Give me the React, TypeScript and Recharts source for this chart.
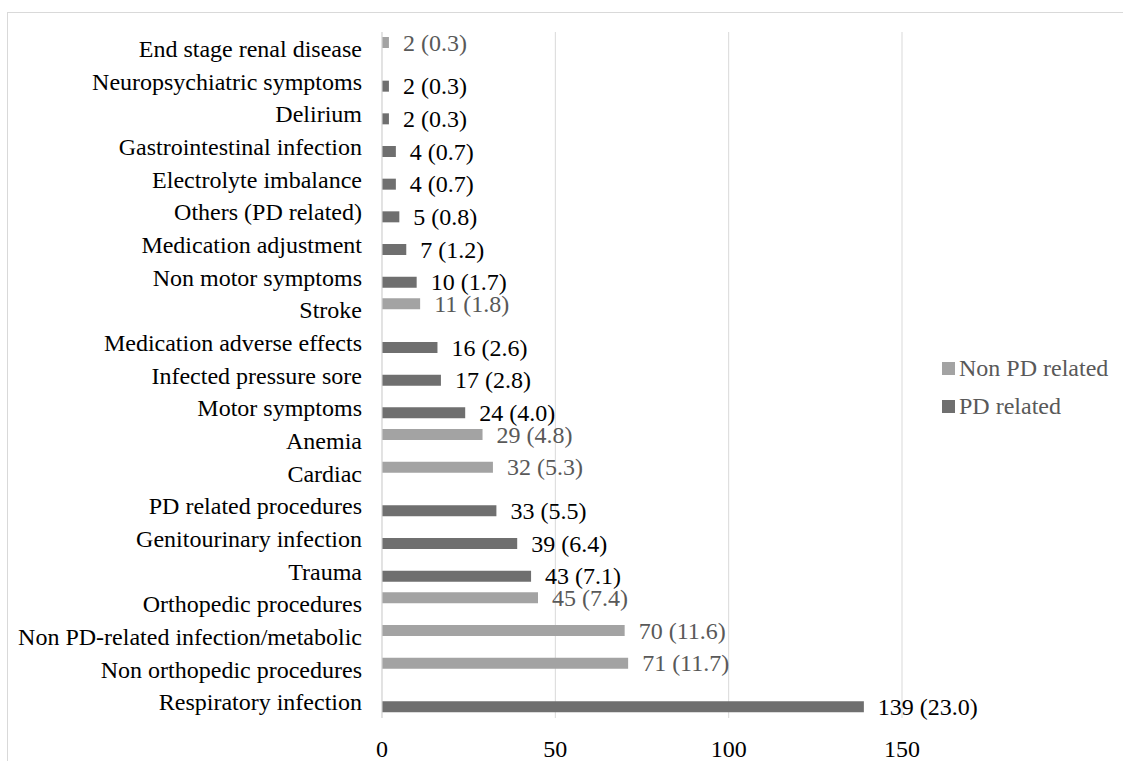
import React from 'react';
import { BarChart, Bar, XAxis, YAxis, CartesianGrid, LabelList } from 'recharts';

// Causes of admission, listed top to bottom
const categories = [
  'End stage renal disease',
  'Neuropsychiatric symptoms',
  'Delirium ',
  'Gastrointestinal infection',
  'Electrolyte imbalance',
  'Others (PD related)',
  'Medication adjustment ',
  'Non motor symptoms',
  'Stroke',
  'Medication adverse effects ',
  'Infected pressure sore',
  'Motor symptoms',
  'Anemia',
  'Cardiac',
  'PD related procedures',
  'Genitourinary infection ',
  'Trauma',
  'Orthopedic procedures',
  'Non PD-related infection/metabolic',
  'Non orthopedic procedures',
  'Respiratory infection',
];

const nonPdCounts = [2, null, null, null, null, null, null, null, 11, null, null, null, 29, 32, null, null, null, 45, 70, 71, null];
const nonPdPercents = ['0.3', null, null, null, null, null, null, null, '1.8', null, null, null, '4.8', '5.3', null, null, null, '7.4', '11.6', '11.7', null];

const pdCounts = [null, 2, 2, 4, 4, 5, 7, 10, null, 16, 17, 24, null, null, 33, 39, 43, null, null, null, 139];
const pdPercents = [null, '0.3', '0.3', '0.7', '0.7', '0.8', '1.2', '1.7', null, '2.6', '2.8', '4.0', null, null, '5.5', '6.4', '7.1', null, null, null, '23.0'];

const xTicks = [0, 50, 100, 150];

const NON_PD_COLOR = '#a3a3a3';
const PD_COLOR = '#6f6f6f';
const FONT = '"Liberation Serif", "Times New Roman", serif';

const fmt = (n: number | null, pct: string | null) => (n == null ? null : `${n} (${pct})`);

const chartData = categories.map((name, i) => ({
  name,
  nonPd: nonPdCounts[i],
  nonPdLabel: fmt(nonPdCounts[i], nonPdPercents[i]),
  pd: pdCounts[i],
  pdLabel: fmt(pdCounts[i], pdPercents[i]),
}));

const makeLabel = (color: string) => (props: any) => {
  const { x, y, width, height, value } = props;
  if (value == null) return null;
  return (
    <text
      x={x + width + 14}
      y={y + height / 2}
      dominantBaseline="central"
      fill={color}
      fontSize={24}
      fontFamily={FONT}
    >
      {value}
    </text>
  );
};

const legendItems = [
  { label: 'Non PD related', color: NON_PD_COLOR },
  { label: 'PD related', color: PD_COLOR },
];

const App: React.FC = () => {
  return (
    <div style={{ position: 'fixed', left: 0, top: 0, width: 1123, height: 761, overflow: 'hidden', background: '#fff' }}>
      <div
        style={{
          position: 'absolute',
          left: 7,
          top: 12,
          width: 1200,
          height: 800,
          border: '1px solid #d9d9d9',
        }}
      />
      <div style={{ position: 'absolute', left: 0, top: 0 }}>
        <BarChart
          width={1123}
          height={761}
          layout="vertical"
          data={chartData}
          margin={{ top: 32, right: 221, bottom: 0, left: 0 }}
          barSize={11}
          barGap={0}
        >
          <CartesianGrid horizontal={false} stroke="#d9d9d9" />
          <XAxis
            type="number"
            domain={[0, 150]}
            ticks={xTicks}
            axisLine={false}
            tickLine={false}
            tickSize={0}
            tickMargin={22}
            height={43}
            tick={{ fill: '#000', fontSize: 24, fontFamily: FONT }}
          />
          <YAxis
            type="category"
            dataKey="name"
            width={382}
            axisLine={{ stroke: '#d9d9d9' }}
            tickLine={false}
            tickSize={0}
            tickMargin={20}
            interval={0}
            tick={{ fill: '#000', fontSize: 24, fontFamily: FONT }}
          />
          <Bar dataKey="nonPd" name="Non PD related" fill={NON_PD_COLOR} isAnimationActive={false}>
            <LabelList dataKey="nonPdLabel" content={makeLabel('#595959')} />
          </Bar>
          <Bar dataKey="pd" name="PD related" fill={PD_COLOR} isAnimationActive={false}>
            <LabelList dataKey="pdLabel" content={makeLabel('#000')} />
          </Bar>
        </BarChart>
      </div>
      {/* legend sits to the right of the plot area */}
      <div style={{ position: 'absolute', left: 942, top: 349, fontFamily: FONT, fontSize: 24, color: '#595959' }}>
        {legendItems.map(item => (
          <div key={item.label} style={{ display: 'flex', alignItems: 'center', height: 38 }}>
            <span style={{ width: 13, height: 13, background: item.color, marginRight: 4, display: 'inline-block' }} />
            <span>{item.label}</span>
          </div>
        ))}
      </div>
    </div>
  );
};

export default App;
